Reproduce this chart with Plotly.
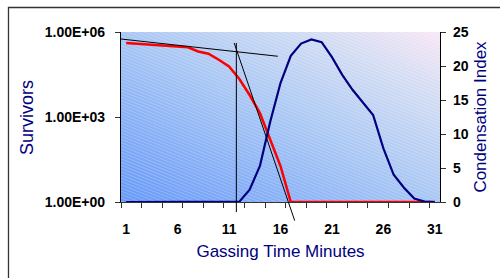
import base64
import math
import plotly.graph_objects as go

# ---- data ----
minutes = list(range(1, 32))
survivors = [409000, 383000, 359000, 333000, 312000, 300000, 289000, 205000, 172000,
             105000, 60600, 21900, 5970, 1380, 154, 18.6] + [1] * 15
condensation = [0, 0, 0, 0, 0, 0, 0, 0, 0, 0, 0, 0.05, 1.8, 5.3, 11.8, 17.5, 21.5,
                23.3, 23.9, 23.5, 21.3, 18.7, 16.5, 14.6, 12.8, 7.9, 4.0, 2.1, 0.5, 0.05, 0]
x_tick_vals = [1, 6, 11, 16, 21, 26, 31]
x_tick_text = ["1", "6", "11", "16", "21", "26", "31"]
y_tick_vals = [1, 1000, 1000000]
y_tick_text = ["1.00E+00", "1.00E+03", "1.00E+06"]
y2_tick_vals = [0, 5, 10, 15, 20, 25]
minor_tick_vals = [0.5 + 2 * k for k in range(16)]

# hand-drawn tangent lines (x in minutes, y in survivors)
tangent_a_x = [0.5, 15.74]
tangent_a_y = [566000, 139000]
tangent_b_x = [11.71, 11.71]
tangent_b_y = [410000, 0.44]
tangent_c_x = [11.5, 17.38]
tangent_c_y = [410000, 0.22]

NAVY = "#000080"
FONT = "Liberation Sans, Arial, sans-serif"

# ---- background gradient image for the plot area ----
svg = """<svg xmlns='http://www.w3.org/2000/svg' width='319' height='170' viewBox='0 0 319 170' preserveAspectRatio='none'>
<defs>
<linearGradient id='g' x1='0' y1='1' x2='1' y2='0'>
<stop offset='0' stop-color='#6698f8'/>
<stop offset='0.5' stop-color='#a7c6f4'/>
<stop offset='0.8' stop-color='#d2dcf3'/>
<stop offset='1' stop-color='#f8e6f6'/>
</linearGradient>
<pattern id='p' width='6' height='3' patternUnits='userSpaceOnUse' patternTransform='rotate(22)'>
<rect x='0' y='0' width='6' height='1' fill='#ffffff' fill-opacity='0.22'/>
</pattern>
</defs>
<rect width='319' height='170' fill='url(#g)'/>
<rect width='319' height='170' fill='url(#p)'/>
</svg>"""
bg_uri = "data:image/svg+xml;base64," + base64.b64encode(svg.encode()).decode()

fig = go.Figure()

fig.add_trace(go.Scatter(x=minutes, y=survivors, mode="lines", yaxis="y",
                         line=dict(color="#ff0000", width=2.5), showlegend=False))
fig.add_trace(go.Scatter(x=minutes, y=condensation, mode="lines", yaxis="y2",
                         line=dict(color=NAVY, width=2.2), showlegend=False))


def ypaper(v):
    return math.log10(v) / 6.0


shapes = []
for lx, ly in [(tangent_a_x, tangent_a_y), (tangent_b_x, tangent_b_y), (tangent_c_x, tangent_c_y)]:
    shapes.append(dict(type="line", xref="x", yref="paper",
                       x0=lx[0], x1=lx[1], y0=ypaper(ly[0]), y1=ypaper(ly[1]),
                       line=dict(color="#000000", width=1)))
# outer chart frame
shapes.append(dict(type="rect", xref="paper", yref="paper",
                   x0=-0.3527, x1=1.25, y0=-0.6, y1=1.144,
                   line=dict(color="#333333", width=1.3), fillcolor="rgba(0,0,0,0)",
                   layer="below"))

fig.update_layout(
    width=500, height=278,
    margin=dict(l=121, r=60, t=32, b=76, autoexpand=False),
    paper_bgcolor="#ffffff",
    plot_bgcolor="rgba(0,0,0,0)",
    font=dict(family=FONT, color="#000000"),
    images=[dict(source=bg_uri, xref="paper", yref="paper", x=0, y=1,
                 sizex=1, sizey=1, sizing="stretch", xanchor="left", yanchor="top",
                 layer="below")],
    shapes=shapes,
    annotations=[dict(text="Survivors", xref="paper", yref="paper", x=-0.2947, y=0.5,
                      xanchor="center", yanchor="middle", textangle=-90, showarrow=False,
                      font=dict(size=18, color=NAVY, family=FONT))],
    xaxis=dict(
        range=[0.5, 31.5], tickvals=x_tick_vals, ticktext=x_tick_text,
        ticks="", showgrid=False, zeroline=False, automargin=False,
        showline=True, linecolor="#333333", linewidth=1,
        tickfont=dict(size=14, family=FONT, color="#000000", weight="bold"),
        ticklabelstandoff=14,
        minor=dict(tickvals=minor_tick_vals, ticks="outside", ticklen=5,
                   tickcolor="#333333", tickwidth=1, showgrid=False),
        title=dict(text="Gassing Time Minutes", font=dict(size=17, color=NAVY, family=FONT),
                   standoff=9),
    ),
    yaxis=dict(
        type="log", range=[0, 6], tickvals=y_tick_vals, ticktext=y_tick_text,
        ticks="outside", ticklen=5, tickcolor="#333333", tickwidth=1,
        showgrid=False, zeroline=False, automargin=False,
        showline=True, linecolor="#000000", linewidth=1.3,
        tickfont=dict(size=14, family=FONT, color="#000000", weight="bold"),
        ticklabelstandoff=7,
    ),
    yaxis2=dict(
        overlaying="y", side="right", range=[0, 25], tickvals=y2_tick_vals,
        ticks="outside", ticklen=5, tickcolor="#333333", tickwidth=1,
        showgrid=False, zeroline=False, automargin=False,
        showline=True, linecolor="#000000", linewidth=1.3,
        tickfont=dict(size=14, family=FONT, color="#000000", weight="bold"),
        ticklabelstandoff=4,
        title=dict(text="Condensation Index", font=dict(size=17, color=NAVY, family=FONT),
                   standoff=6),
    ),
)

fig.write_html("out.html", config={"displayModeBar": False},
               post_script="document.body.style.margin='0';document.body.style.overflow='hidden';")
